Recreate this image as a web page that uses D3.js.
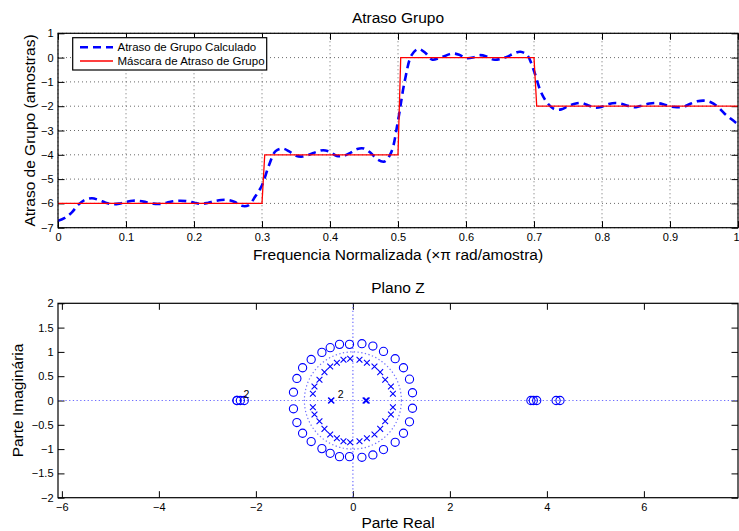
<!DOCTYPE html>
<html>
<head>
<meta charset="utf-8">
<script src="https://cdn.jsdelivr.net/npm/d3@7/dist/d3.min.js"></script>
<style>
  html, body { margin: 0; padding: 0; background: #fff; }
  svg { display: block; font-family: "Liberation Sans", Arial, Helvetica, sans-serif; }
</style>
</head>
<body>
<svg id="chart" width="739" height="531"></svg>
<script>
// ---- Group delay: normalized frequency grid and computed delay (samples)
const freqNorm = [
  0.00,0.01,0.02,0.03,0.04,0.05,0.06,0.07,0.08,0.09,
  0.10,0.11,0.12,0.13,0.14,0.15,0.16,0.17,0.18,0.19,
  0.20,0.21,0.22,0.23,0.24,0.25,0.26,0.27,0.28,0.29,
  0.30,0.31,0.32,0.33,0.34,0.35,0.36,0.37,0.38,0.39,
  0.40,0.41,0.42,0.43,0.44,0.45,0.46,0.47,0.48,0.49,
  0.50,0.51,0.52,0.53,0.54,0.55,0.56,0.57,0.58,0.59,
  0.60,0.61,0.62,0.63,0.64,0.65,0.66,0.67,0.68,0.69,
  0.70,0.71,0.72,0.73,0.74,0.75,0.76,0.77,0.78,0.79,
  0.80,0.81,0.82,0.83,0.84,0.85,0.86,0.87,0.88,0.89,
  0.90,0.91,0.92,0.93,0.94,0.95,0.96,0.97,0.98,0.99,
  1.00
];
const delayCalc = [
  -6.72,-6.60,-6.38,-6.05,-5.85,-5.79,-5.86,-5.97,-6.03,-6.01,
  -5.94,-5.89,-5.90,-5.95,-6.01,-6.02,-5.97,-5.91,-5.89,-5.91,
  -5.97,-6.02,-5.98,-5.91,-5.86,-5.86,-5.94,-6.10,-6.08,-5.72,
  -5.25,-4.45,-3.85,-3.74,-3.86,-4.04,-4.07,-3.99,-3.88,-3.81,
  -3.88,-4.05,-4.04,-3.92,-3.76,-3.74,-3.93,-4.20,-4.28,-3.90,
  -2.60,-0.95, 0.10, 0.36, 0.20,-0.08,-0.03, 0.08, 0.17, 0.12,
  -0.02, 0.00, 0.10, 0.05,-0.08,-0.06, 0.03, 0.16, 0.24, 0.10,
  -0.55,-1.40,-1.88,-2.12,-2.13,-2.00,-1.90,-1.87,-1.97,-2.06,
  -2.02,-1.91,-1.87,-1.91,-2.00,-2.04,-1.96,-1.89,-1.87,-1.92,
  -2.01,-2.04,-2.02,-1.90,-1.80,-1.77,-1.84,-2.02,-2.30,-2.53,
  -2.75
];

// ---- Group delay mask (piecewise constant target)
const maskFreq  = [0, 0.300, 0.304, 0.500, 0.504, 0.700, 0.704, 1];
const maskDelay = [-6, -6, -4, -4, 0, 0, -2, -2];

// ---- Tick labels
const gdXTicks = [0,0.1,0.2,0.3,0.4,0.5,0.6,0.7,0.8,0.9,1];
const gdYTicks = [1,0,-1,-2,-3,-4,-5,-6,-7];
const zXTicks = [-6,-4,-2,0,2,4,6];
const zYTicks = [2,1.5,1,0.5,0,-0.5,-1,-1.5,-2];

// ---- Pole-zero data (real / imaginary parts)
const zeroRe = [
  -1.225,-1.155,-1.037,-0.860,-0.639,-0.468,-0.276,-0.070, 0.186, 0.412, 0.631, 0.872, 1.043, 1.167, 1.229,
  -1.225,-1.155,-1.037,-0.860,-0.639,-0.468,-0.276,-0.070, 0.186, 0.412, 0.631, 0.872, 1.043, 1.167, 1.229,
  -2.39,-2.39,-2.32,-2.24,
   3.67, 3.72, 3.79, 4.19, 4.27
];
const zeroIm = [
   0.171, 0.454, 0.674, 0.845, 0.990, 1.087, 1.155, 1.155, 1.169, 1.120, 1.010, 0.860, 0.674, 0.439, 0.159,
  -0.171,-0.454,-0.674,-0.845,-0.990,-1.087,-1.155,-1.155,-1.169,-1.120,-1.010,-0.860,-0.674,-0.439,-0.159,
   0, 0, 0, 0,
   0, 0, 0, 0, 0
];
const poleRe = [
  -0.825,-0.792,-0.689,-0.586,-0.468,-0.330,-0.194,-0.056, 0.136, 0.289, 0.445, 0.563, 0.666, 0.784, 0.825,
  -0.825,-0.792,-0.689,-0.586,-0.468,-0.330,-0.194,-0.056, 0.136, 0.289, 0.445, 0.563, 0.666, 0.784, 0.825,
  -0.452,-0.442,
   0.260, 0.275, 0.285
];
const poleIm = [
   0.138, 0.289, 0.427, 0.584, 0.701, 0.777, 0.839, 0.860, 0.839, 0.777, 0.701, 0.584, 0.427, 0.289, 0.138,
  -0.138,-0.289,-0.427,-0.584,-0.701,-0.777,-0.839,-0.860,-0.839,-0.777,-0.701,-0.584,-0.427,-0.289,-0.138,
   0, 0,
   0, 0, 0
];
// multiplicity annotations: [re, im, text]
const zeroMult = [[-2.39, 0, "2"]];
const poleMult = [[-0.447, 0, "2"]];

const svg = d3.select("#chart");
const BLUE = "#0000ff", RED = "#ff0000";
const TICK = 6.5;

function styleAxis(g) {
  g.select(".domain").remove();
  g.selectAll(".tick line").attr("stroke", "#000").attr("stroke-width", 1);
  g.selectAll(".tick text").attr("fill", "#000").attr("font-size", 11);
}
function minusFmt(v) { return (v < 0 ? "\u2212" : "") + Math.abs(v); }

// =================== Group delay plot ===================
const gd = { l: 58, r: 738, t: 33.3, b: 227.7 };
const gx = d3.scaleLinear().domain([0, 1]).range([gd.l, gd.r]);
const gy = d3.scaleLinear().domain([-7, 1]).range([gd.b, gd.t]);

svg.append("defs").append("clipPath").attr("id", "clipGd")
  .append("rect").attr("x", gd.l).attr("y", gd.t).attr("width", gd.r - gd.l).attr("height", gd.b - gd.t);

// dotted grid
const gridG = svg.append("g");
gridG.selectAll("line.gx").data(gdXTicks).join("line")
  .attr("x1", d => gx(d)).attr("x2", d => gx(d)).attr("y1", gd.t).attr("y2", gd.b);
gridG.selectAll("line.gy").data(gdYTicks).join("line")
  .attr("x1", gd.l).attr("x2", gd.r).attr("y1", d => gy(d)).attr("y2", d => gy(d));
gridG.selectAll("line").attr("stroke", "#6a6a6a").attr("stroke-width", 1).attr("stroke-dasharray", "1,3");

// axes (ticks point inward on all four sides)
const gxAxis = svg.append("g").attr("transform", `translate(0,${gd.b})`)
  .call(d3.axisBottom(gx).tickValues(gdXTicks).tickSize(-TICK).tickPadding(6).tickFormat(d => d)).call(styleAxis);
// the last label sits at the figure's right edge: keep it inside
gxAxis.selectAll(".tick text").filter(d => d === 1).attr("text-anchor", "end").attr("x", 1);
svg.append("g").attr("transform", `translate(0,${gd.t})`)
  .call(d3.axisTop(gx).tickValues(gdXTicks).tickSize(-TICK).tickFormat("")).call(styleAxis);
svg.append("g").attr("transform", `translate(${gd.l},0)`)
  .call(d3.axisLeft(gy).tickValues(gdYTicks).tickSize(-TICK).tickPadding(4.5).tickFormat(minusFmt)).call(styleAxis);
svg.append("g").attr("transform", `translate(${gd.r},0)`)
  .call(d3.axisRight(gy).tickValues(gdYTicks).tickSize(-TICK).tickFormat("")).call(styleAxis);

// series
const plotG = svg.append("g").attr("clip-path", "url(#clipGd)");
const calcPts = freqNorm.map((f, i) => [f, delayCalc[i]]);
const maskPts = maskFreq.map((f, i) => [f, maskDelay[i]]);
plotG.append("path").datum(calcPts)
  .attr("d", d3.line().x(d => gx(d[0])).y(d => gy(d[1])).curve(d3.curveCatmullRom.alpha(0.5)))
  .attr("fill", "none").attr("stroke", BLUE).attr("stroke-width", 2.6).attr("stroke-dasharray", "8,5");
plotG.append("path").datum(maskPts)
  .attr("d", d3.line().x(d => gx(d[0])).y(d => gy(d[1])))
  .attr("fill", "none").attr("stroke", RED).attr("stroke-width", 1.3);

// box
svg.append("rect").attr("x", gd.l).attr("y", gd.t).attr("width", gd.r - gd.l).attr("height", gd.b - gd.t)
  .attr("fill", "none").attr("stroke", "#000").attr("stroke-width", 1.2);

// legend
const lg = svg.append("g");
lg.append("rect").attr("x", 72.7).attr("y", 37.7).attr("width", 194).attr("height", 32.3)
  .attr("fill", "#fff").attr("stroke", "#000").attr("stroke-width", 1.2);
const legendItems = [
  { label: "Atraso de Grupo Calculado", color: BLUE, width: 2.6, dash: "8,5", y: 47.3 },
  { label: "Máscara de Atraso de Grupo", color: RED, width: 1.3, dash: null, y: 61 }
];
legendItems.forEach(it => {
  lg.append("line").attr("x1", 80).attr("x2", 113).attr("y1", it.y).attr("y2", it.y)
    .attr("stroke", it.color).attr("stroke-width", it.width).attr("stroke-dasharray", it.dash);
  lg.append("text").attr("x", 117.5).attr("y", it.y).attr("dy", "0.36em")
    .attr("font-size", 11.5).text(it.label);
});

// titles
svg.append("text").attr("x", (gd.l + gd.r) / 2).attr("y", 23.3).attr("text-anchor", "middle")
  .attr("font-size", 15.5).text("Atraso Grupo");
svg.append("text").attr("x", (gd.l + gd.r) / 2).attr("y", 260).attr("text-anchor", "middle")
  .attr("font-size", 15.5).text("Frequencia Normalizada (\u00d7\u03c0 rad/amostra)");
svg.append("text").attr("transform", `translate(35,${(gd.t + gd.b) / 2}) rotate(-90)`).attr("text-anchor", "middle")
  .attr("font-size", 15.5).text("Atraso de Grupo (amostras)");

// =================== Pole-zero plot ===================
const zp = { l: 58, r: 738, t: 303.3, b: 497.7 };
const zx = d3.scaleLinear().domain([-6.08, 7.94]).range([zp.l, zp.r]);
const zy = d3.scaleLinear().domain([-2, 2]).range([zp.b, zp.t]);

svg.select("defs").append("clipPath").attr("id", "clipZ")
  .append("rect").attr("x", zp.l).attr("y", zp.t).attr("width", zp.r - zp.l).attr("height", zp.b - zp.t);

svg.append("g").attr("transform", `translate(0,${zp.b})`)
  .call(d3.axisBottom(zx).tickValues(zXTicks).tickSize(-TICK).tickPadding(5.5).tickFormat(minusFmt)).call(styleAxis);
svg.append("g").attr("transform", `translate(0,${zp.t})`)
  .call(d3.axisTop(zx).tickValues(zXTicks).tickSize(-TICK).tickFormat("")).call(styleAxis);
svg.append("g").attr("transform", `translate(${zp.l},0)`)
  .call(d3.axisLeft(zy).tickValues(zYTicks).tickSize(-TICK).tickPadding(4.5).tickFormat(minusFmt)).call(styleAxis);
svg.append("g").attr("transform", `translate(${zp.r},0)`)
  .call(d3.axisRight(zy).tickValues(zYTicks).tickSize(-TICK).tickFormat("")).call(styleAxis);

const zG = svg.append("g").attr("clip-path", "url(#clipZ)");
const guide = { stroke: "#6f6fff", "stroke-width": 1.2, "stroke-dasharray": "1.3,2.4", fill: "none" };
function applyGuide(sel) { Object.entries(guide).forEach(([k, v]) => sel.attr(k, v)); return sel; }
// real and imaginary axes, unit circle
applyGuide(zG.append("line").attr("x1", zp.l).attr("x2", zp.r).attr("y1", zy(0)).attr("y2", zy(0)));
applyGuide(zG.append("line").attr("x1", zx(0)).attr("x2", zx(0)).attr("y1", zp.t).attr("y2", zp.b));
applyGuide(zG.append("ellipse").attr("cx", zx(0)).attr("cy", zy(0))
  .attr("rx", zx(1) - zx(0)).attr("ry", zy(0) - zy(1)));

// zeros (circles)
const zeros = zeroRe.map((r, i) => [r, zeroIm[i]]);
zG.selectAll("circle.zero").data(zeros).join("circle").attr("class", "zero")
  .attr("cx", d => zx(d[0])).attr("cy", d => zy(d[1])).attr("r", 4.1)
  .attr("fill", "none").attr("stroke", BLUE).attr("stroke-width", 1.1);

// poles (crosses)
const poles = poleRe.map((r, i) => [r, poleIm[i]]);
const xs = 2.9;
zG.selectAll("path.pole").data(poles).join("path").attr("class", "pole")
  .attr("d", d => {
    const cx = zx(d[0]), cy = zy(d[1]);
    return `M${cx - xs},${cy - xs}L${cx + xs},${cy + xs}M${cx - xs},${cy + xs}L${cx + xs},${cy - xs}`;
  })
  .attr("fill", "none").attr("stroke", BLUE).attr("stroke-width", 1.1);

// multiplicity labels
zeroMult.concat(poleMult).forEach(m => {
  svg.append("text").attr("x", zx(m[0]) + 6.5).attr("y", zy(m[1]) - 3)
    .attr("font-size", 10.5).text(m[2]);
});

svg.append("rect").attr("x", zp.l).attr("y", zp.t).attr("width", zp.r - zp.l).attr("height", zp.b - zp.t)
  .attr("fill", "none").attr("stroke", "#000").attr("stroke-width", 1.2);

svg.append("text").attr("x", (zp.l + zp.r) / 2).attr("y", 293.3).attr("text-anchor", "middle")
  .attr("font-size", 15.5).text("Plano Z");
svg.append("text").attr("x", (zp.l + zp.r) / 2).attr("y", 527.5).attr("text-anchor", "middle")
  .attr("font-size", 15.5).text("Parte Real");
svg.append("text").attr("transform", `translate(23,${(zp.t + zp.b) / 2}) rotate(-90)`).attr("text-anchor", "middle")
  .attr("font-size", 15.5).text("Parte Imaginária");
</script>
</body>
</html>
